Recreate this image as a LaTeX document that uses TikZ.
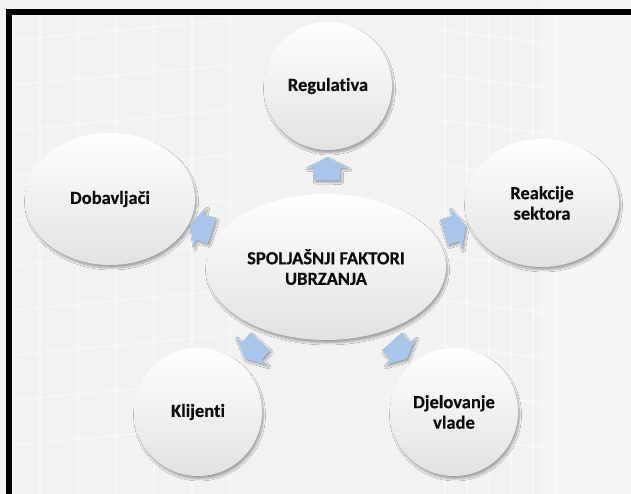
\documentclass[tikz,border=0pt]{standalone}
\usepackage{fontspec}
\setmainfont{Carlito}
\newfontfamily\labelfont{Carlito Bold}[FakeBold=0.35, Ligatures=CommonOff]
\usetikzlibrary{shapes.geometric,shapes.arrows,shadows.blur}

\definecolor{pagebg}{HTML}{F2F2F2}
\definecolor{arrowblue}{HTML}{A9C5EA}
\definecolor{rim}{HTML}{E2E2E2}

\tikzset{
  bubble/.style={ellipse, inner sep=0pt, align=center,
    font=\labelfont\fontsize{18.5}{20.5}\selectfont, text=black!95,
    shade, top color=white, middle color=white, bottom color=rim,
    blur shadow={shadow xshift=1.5pt, shadow yshift=-3pt,
                 shadow blur steps=6, shadow opacity=32}},
  pointer/.style={single arrow, draw=none, fill=arrowblue,
    inner xsep=0pt, inner ysep=13pt, minimum height=23pt,
    single arrow head extend=8pt, single arrow tip angle=128,
    sloped, allow upside down,
    blur shadow={shadow xshift=1.5pt, shadow yshift=-2pt,
                 shadow blur steps=4, shadow opacity=35}},
  frameline/.style={line width=6pt, black}
}

\begin{document}
\begin{tikzpicture}[x=1pt, y=-1pt]
  \useasboundingbox (0,0) rectangle (631,494);
  % page background
  \fill[pagebg] (0,0) rectangle (631,494);
  \fill[white, opacity=0.3] (540,0) rectangle (631,494);
  % faint facade lines
  \begin{scope}[white, line width=1.5pt, opacity=0.45]
    \foreach \k in {0,...,9} {
      \draw (15,40+45*\k) -- (230,20+45*\k);
      \draw (440,30+45*\k) -- (560,45+45*\k);
    }
    \foreach \k in {0,...,5} {
      \draw (40+38*\k,15) -- (40+38*\k,494);
      \draw (445+22*\k,15) -- (445+22*\k,494);
    }
  \end{scope}
  % open frame on top and left
  \draw[frameline] (640,12) -- (9,12) -- (9,500);

  % central ellipse and the five factors
  \node[bubble, minimum width=240pt, minimum height=146pt] (c) at (326,267)
    {SPOLJAŠNJI FAKTORI\\UBRZANJA};
  \node[bubble, minimum width=128pt, minimum height=128pt] (reg) at (328,86) {Regulativa};
  \node[bubble, minimum width=170pt, minimum height=132pt] (dob) at (110,199) {Dobavljači};
  \node[bubble, minimum width=154pt, minimum height=128pt] (rea) at (542,203) {Reakcije\\sektora};
  \node[bubble, minimum width=128pt, minimum height=128pt] (kli) at (198,412) {Klijenti};
  \node[bubble, minimum width=128pt, minimum height=128pt] (dje) at (454,412) {Djelovanje\\vlade};

  % block arrows from the centre outward
  \path (c) -- node[pointer] {} (reg);
  \path (c) -- node[pointer] {} (dob);
  \path (c) -- node[pointer] {} (rea);
  \path (c) -- node[pointer] {} (kli);
  \path (c) -- node[pointer] {} (dje);
\end{tikzpicture}
\end{document}
